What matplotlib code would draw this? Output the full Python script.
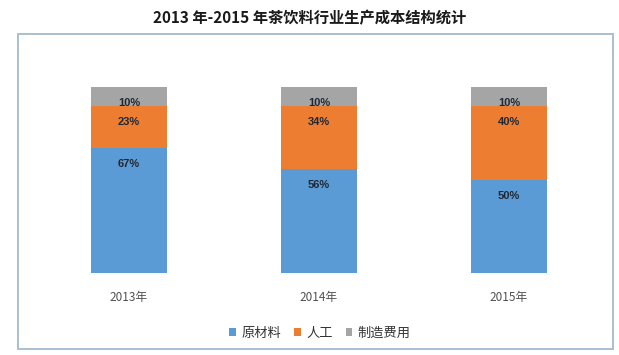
import matplotlib
matplotlib.use("Agg")
import matplotlib.pyplot as plt
from matplotlib.patches import Rectangle, Patch

plt.rcParams['font.family'] = ['Noto Sans CJK SC', 'DejaVu Sans']

years = ['2013年', '2014年', '2015年']
series_names = ['原材料', '人工', '制造费用']
raw_material = [67, 56, 50]
labor = [23, 34, 40]
manufacturing = [10, 10, 10]
colors = ['#5B9BD5', '#ED7D31', '#A5A5A5']
title = '2013 年-2015 年茶饮料行业生产成本结构统计'

W, H = 619, 355
fig = plt.figure(figsize=(W / 100, H / 100), dpi=100)
fig.patch.set_facecolor('white')

# chart border box
fig.patches.append(Rectangle((18 / W, 1 - 349 / H), (613 - 18) / W, (349 - 34) / H,
                             transform=fig.transFigure, fill=False,
                             edgecolor='#A9BFD0', linewidth=1.4))

ax = fig.add_axes([34 / W, 1 - 273 / H, 570 / W, 186 / H])
ax.set_xlim(-0.5, 2.5)
ax.set_ylim(0, 100)
for s in ax.spines.values():
    s.set_visible(False)
ax.set_yticks([])

x = list(range(len(years)))
data = [raw_material, labor, manufacturing]
bottoms = [0] * len(years)
for vals, c, name in zip(data, colors, series_names):
    ax.bar(x, vals, bottom=bottoms, width=0.4, color=c, linewidth=0, label=name)
    for xi, v, b in zip(x, vals, bottoms):
        ax.annotate(f'{v}%', xy=(xi, b + v), xytext=(0, -16), textcoords='offset pixels',
                    ha='center', va='center', fontsize=8, fontweight='bold',
                    color='#222833', family=['Liberation Sans', 'DejaVu Sans'])
    bottoms = [b + v for b, v in zip(bottoms, vals)]

ax.set_xticks(x)
ax.set_xticklabels(years, fontsize=8.5, color='#505050')
ax.tick_params(axis='x', length=0, pad=13)

fig.text(0.5, 1 - 18 / H, title, ha='center', va='center', fontsize=11,
         fontweight='bold', color='#1a1a1a')

handles = [Patch(facecolor=c, edgecolor='none', label=n) for c, n in zip(colors, series_names)]
fig.legend(handles=handles, loc='center', bbox_to_anchor=(320 / W, 1 - 333 / H), ncol=3,
           frameon=False, fontsize=9.5, handlelength=0.5, handleheight=0.5,
           handletextpad=0.4, columnspacing=1.0, labelcolor='#333333')

fig.savefig('out.png', dpi=100, facecolor='white')
